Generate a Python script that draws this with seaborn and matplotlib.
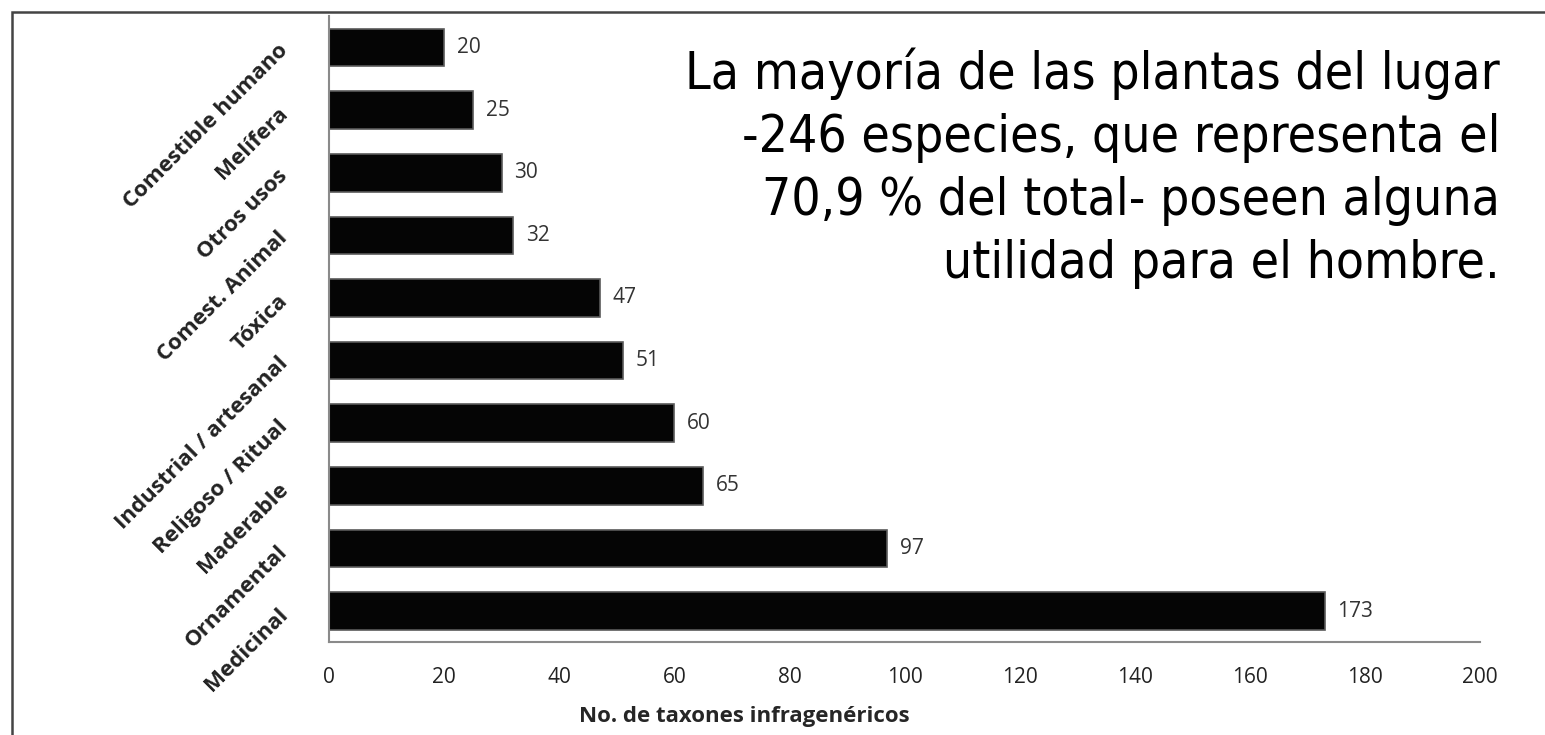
import matplotlib
matplotlib.use("Agg")
import matplotlib.pyplot as plt
from matplotlib.patches import Rectangle
import pandas as pd
import seaborn as sns

# datos
usos = ["Comestible humano", "Melífera", "Otros usos", "Comest. Animal", "Tóxica",
        "Industrial / artesanal", "Religoso / Ritual", "Maderable", "Ornamental", "Medicinal"]
taxones = [20, 25, 30, 32, 47, 51, 60, 65, 97, 173]
xticks = [0, 20, 40, 60, 80, 100, 120, 140, 160, 180, 200]

nota = ("La mayoría de las plantas del lugar\n"
        "-246 especies, que representa el\n"
        "70,9 % del total- poseen alguna\n"
        "utilidad para el hombre.")

df = pd.DataFrame({"uso": usos, "n": taxones})

sns.set_style("white")
plt.rcParams["font.family"] = ["Open Sans", "DejaVu Sans"]

fig = plt.figure(figsize=(15.45, 7.35), dpi=100)
ax = fig.add_axes([0.213, 0.126, 0.745, 0.852])

sns.barplot(data=df, y="uso", x="n", orient="h", order=usos, color="#050505",
            width=0.6, edgecolor="#5a5a5a", linewidth=1.2, saturation=1, ax=ax)

for i, v in enumerate(taxones):
    ax.text(v + 2.2, i, str(v), va="center", ha="left", fontsize=15, color="#333333")

ax.set_xlim(0, 200)
ax.set_ylim(len(usos) - 0.5, -0.5)
ax.set_xticks(xticks)
ax.set_xticklabels([str(t) for t in xticks], fontsize=15, color="#222222")
ax.tick_params(axis="x", length=0, pad=18)
ax.tick_params(axis="y", length=0, pad=32)
ax.set_yticks(range(len(usos)))
ax.set_yticklabels(usos, rotation=45, ha="right", va="center", rotation_mode="anchor",
                   fontsize=16, fontweight="bold", color="#222222")
ax.set_ylabel("")
ax.set_xlabel("No. de taxones infragenéricos", fontsize=16, fontweight="bold")
ax.xaxis.set_label_coords(0.361, -0.102)

for s in ["top", "right"]:
    ax.spines[s].set_visible(False)
for s in ["left", "bottom"]:
    ax.spines[s].set_color("#8a8a8a")
    ax.spines[s].set_linewidth(1.5)

fig.text(0.971, 0.935, nota, ha="right", va="top", fontsize=37, fontstretch="condensed",
         family="DejaVu Sans", linespacing=1.33, color="black")

# marco de la hoja
fig.patches.append(Rectangle((12 / 1545, -0.2), 1.3, 1.2 - 12 / 735, transform=fig.transFigure,
                             fill=False, edgecolor="#444444", linewidth=1.8))

fig.savefig("out.png", dpi=100)
